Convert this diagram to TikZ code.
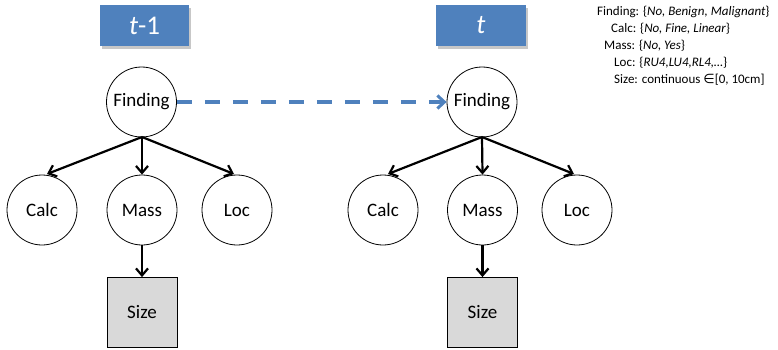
\documentclass[tikz,border=0pt]{standalone}
\usepackage{fontspec}
\setmainfont{Carlito}
\usetikzlibrary{arrows.meta}
\definecolor{officeblue}{HTML}{4F81BD}
\begin{document}
\begin{tikzpicture}[x=1pt,y=-1pt,
  var/.style={circle,draw=black,line width=0.8pt,minimum size=70pt,inner sep=0pt,font=\fontsize{19}{21}\selectfont},
  sizebox/.style={rectangle,draw=black,line width=0.8pt,fill=black!15,minimum size=70pt,inner sep=0pt,font=\fontsize{19}{21}\selectfont},
  timebox/.style={rectangle,fill=officeblue,minimum height=41pt,text=white,font=\fontsize{27}{29}\selectfont},
  shadowbox/.style={fill=black!22},
  edge/.style={line width=2.2pt,-{Straight Barb[length=7pt,width=12pt,line width=2.2pt]}},
  legend/.style={anchor=west,inner sep=0pt,font=\fontsize{13}{15}\selectfont}
]
\useasboundingbox (0,0) rectangle (778,350);
% time labels
\fill[shadowbox] (102,8) rectangle (191,49);
\node[timebox,minimum width=89pt] (tm1) at (144.5,25.5) {\itshape t\upshape -1};
\fill[shadowbox] (438,8) rectangle (528,49);
\node[timebox,minimum width=90pt] (tt) at (481,25.5) {\itshape t};
% left slice
\node[var] (f1) at (141.5,102) {Finding};
\node[var] (c1) at (42,210) {Calc};
\node[var] (m1) at (142,210) {Mass};
\node[var] (l1) at (237,210) {Loc};
\node[sizebox] (s1) at (142,312.5) {Size};
\coordinate (f1b) at (142,137);
\draw[edge] (f1b) -- (47,174);
\draw[edge] (f1b) -- (m1.north);
\draw[edge] (f1b) -- (234,174);
\draw[edge] (m1.south) -- (s1.north);
% right slice
\node[var] (f2) at (482,102) {Finding};
\node[var] (c2) at (383,210) {Calc};
\node[var] (m2) at (482.5,210) {Mass};
\node[var] (l2) at (577,210) {Loc};
\node[sizebox] (s2) at (482.5,312.5) {Size};
\coordinate (f2b) at (482,137);
\draw[edge] (f2b) -- (388,174);
\draw[edge] (f2b) -- (m2.north);
\draw[edge] (f2b) -- (574,174);
\draw[edge] (m2.south) -- (s2.north);
% temporal link
\draw[officeblue,line width=3.5pt,dash pattern=on 15pt off 13pt,-{Straight Barb[length=7pt,width=13pt,line width=3pt]}] (f1.east) -- (f2.west);
% legend
\node[legend] (lg1) at (597,12) {Finding: \{\textit{No, Benign, Malignant}\}};
\node[legend] (lg2) at (611,29) {Calc: \{\textit{No, Fine, Linear}\}};
\node[legend] (lg3) at (604,46) {Mass: \{\textit{No, Yes}\}};
\node[legend] (lg4) at (614,63) {Loc: \{\textit{RU4,LU4,RL4,…}\}};
\node[legend] (lg5) at (614,80) {Size: continuous {\fontspec{DejaVu Sans}∈}[0, 10cm]};
\end{tikzpicture}
\end{document}
